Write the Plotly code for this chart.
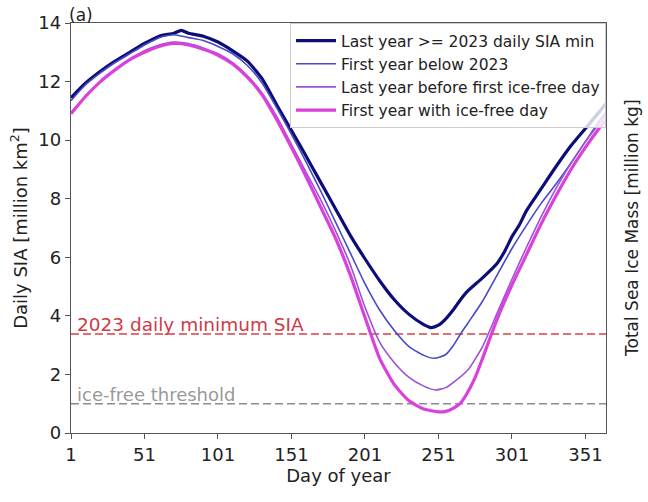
import plotly.graph_objects as go

# ---- data ----
days_last_ge = [1, 11, 21, 31, 41, 51, 61, 71, 76, 81, 91, 101, 111, 121, 131, 141, 151, 161, 171, 181,
                191, 201, 211, 221, 231, 241, 246, 251, 256, 261, 266, 271, 281, 291, 296, 301, 306, 311,
                321, 331, 341, 351, 361, 365]
sia_last_ge = [11.45, 11.95, 12.35, 12.7, 13.0, 13.3, 13.55, 13.65, 13.75, 13.65, 13.55, 13.35, 13.05, 12.7,
               12.1, 11.2, 10.33, 9.45, 8.55, 7.65, 6.75, 5.95, 5.2, 4.55, 4.05, 3.7, 3.6, 3.68, 3.9, 4.2,
               4.55, 4.85, 5.3, 5.8, 6.2, 6.7, 7.1, 7.6, 8.35, 9.1, 9.8, 10.4, 11.0, 11.25]

days_first_below = [1, 11, 21, 31, 41, 51, 61, 71, 81, 91, 101, 111, 121, 131, 141, 151, 161, 171, 181, 191,
                    201, 211, 221, 231, 241, 248, 256, 261, 266, 271, 281, 291, 301, 311, 321, 331, 341, 351,
                    361, 365]
sia_first_below = [11.35, 11.9, 12.3, 12.65, 12.95, 13.25, 13.5, 13.6, 13.5, 13.4, 13.2, 12.95, 12.55, 11.95,
                   11.1, 10.2, 9.25, 8.25, 7.2, 6.15, 5.1, 4.2, 3.5, 2.95, 2.65, 2.55, 2.68, 2.98, 3.38, 3.75,
                   4.5, 5.4, 6.3, 7.1, 7.85, 8.5, 9.2, 9.95, 10.7, 10.95]

days_last_before = [1, 11, 21, 31, 41, 51, 61, 71, 81, 91, 101, 111, 121, 131, 141, 151, 161, 171, 181, 191,
                    201, 211, 221, 231, 241, 249, 256, 261, 271, 281, 291, 301, 311, 321, 331, 341, 351, 361,
                    365]
sia_last_before = [10.95, 11.5, 12.0, 12.4, 12.75, 13.05, 13.25, 13.35, 13.3, 13.15, 12.95, 12.65, 12.2, 11.6,
                   10.8, 9.85, 8.9, 7.95, 6.9, 5.75, 4.3, 3.1, 2.4, 1.9, 1.6, 1.47, 1.55, 1.72, 2.15, 2.95, 4.1,
                   5.25, 6.35, 7.4, 8.35, 9.2, 9.95, 10.6, 10.85]

days_first_free = [1, 11, 21, 31, 41, 51, 61, 71, 81, 91, 101, 111, 121, 131, 141, 151, 161, 171, 181, 191,
                   201, 211, 221, 231, 241, 251, 256, 261, 266, 271, 276, 281, 291, 301, 311, 321, 331, 341,
                   351, 361, 365]
sia_first_free = [10.9, 11.5, 12.0, 12.4, 12.75, 13.0, 13.2, 13.3, 13.25, 13.1, 12.9, 12.6, 12.15, 11.55,
                  10.7, 9.75, 8.75, 7.7, 6.65, 5.4, 3.95, 2.55, 1.65, 1.1, 0.82, 0.72, 0.74, 0.84, 1.02, 1.4,
                  1.9, 2.55, 3.9, 5.05, 6.1, 7.15, 8.1, 8.98, 9.75, 10.45, 10.7]

min_2023 = 3.38
ice_free = 1.0

x_ticks = [1, 51, 101, 151, 201, 251, 301, 351]
y_ticks = [0, 2, 4, 6, 8, 10, 12, 14]

series = [
    ("Last year >= 2023 daily SIA min", days_last_ge, sia_last_ge, "#0d0d78", 3.2),
    ("First year below 2023", days_first_below, sia_first_below, "#4848c8", 1.6),
    ("Last year before first ice-free day", days_last_before, sia_last_before, "#9a52d6", 1.6),
    ("First year with ice-free day", days_first_free, sia_first_free, "#d940dc", 3.2),
]

FONT = "DejaVu Sans"
fig = go.Figure()
for name, xs, ys, col, w in series:
    fig.add_trace(go.Scatter(x=xs, y=ys, mode="lines", name=name,
                             line=dict(color=col, width=w, shape="spline", smoothing=0.6)))

fig.add_shape(type="line", xref="paper", yref="y", x0=0, x1=1, y0=min_2023, y1=min_2023,
              line=dict(color="#d9404a", width=1.6, dash="8px,4px"), layer="below")
fig.add_shape(type="line", xref="paper", yref="y", x0=0, x1=1, y0=ice_free, y1=ice_free,
              line=dict(color="#8c8c8c", width=1.4, dash="8px,4px"), layer="below")

fig.add_annotation(x=4, y=min_2023, xref="x", yref="y", text="2023 daily minimum SIA",
                   showarrow=False, xanchor="left", yanchor="bottom", yshift=-3,
                   font=dict(family=FONT, size=18.5, color="#d03a48"))
fig.add_annotation(x=4, y=ice_free, xref="x", yref="y", text="ice-free threshold",
                   showarrow=False, xanchor="left", yanchor="bottom", yshift=-3,
                   font=dict(family=FONT, size=18, color="#999999"))
fig.add_annotation(x=0, y=1, xref="paper", yref="paper", text="(a)", showarrow=False,
                   xanchor="left", yanchor="bottom", yshift=-4, xshift=-4,
                   font=dict(family=FONT, size=17, color="#222"))
fig.add_annotation(x=1, y=0.5, xref="paper", yref="paper", text="Total Sea Ice Mass [million kg]",
                   showarrow=False, textangle=-90, xanchor="center", yanchor="middle", xshift=26,
                   font=dict(family=FONT, size=17, color="#222"))

axis_common = dict(showgrid=False, zeroline=False, showline=True, linecolor="#555", linewidth=1.3,
                   mirror=True, ticks="outside", ticklen=5, tickwidth=1.2, tickcolor="#555",
                   automargin=False, tickfont=dict(family=FONT, size=18, color="#222"))

fig.update_layout(
    width=648, height=502,
    margin=dict(l=71, r=42, t=23, b=69),
    paper_bgcolor="white", plot_bgcolor="white",
    font=dict(family=FONT, color="#222"),
    xaxis=dict(range=[1, 365], tickvals=x_ticks, title=dict(text="Day of year", standoff=4,
               font=dict(family=FONT, size=18)), **axis_common),
    yaxis=dict(range=[0, 14], tickvals=y_ticks, title=dict(text="Daily SIA [million km<sup>2</sup>]",
               standoff=6, font=dict(family=FONT, size=18)), **axis_common),
    legend=dict(x=1, y=1, xanchor="right", yanchor="top", bgcolor="rgba(255,255,255,0.8)",
                bordercolor="#cccccc", borderwidth=1, font=dict(family=FONT, size=15.5, color="#222"),
                tracegroupgap=0, itemwidth=40),
    showlegend=True,
)

fig.write_html("out.html", config={"displayModeBar": False},
               post_script="document.body.style.margin='0';document.body.style.padding='0';")
